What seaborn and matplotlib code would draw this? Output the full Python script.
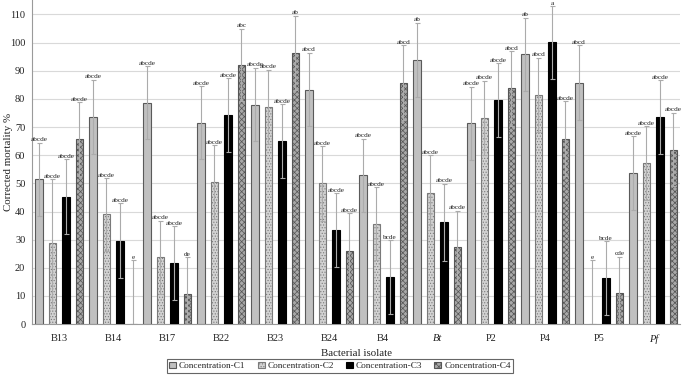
#!/usr/bin/env python3
"""
Corrected mortality (%) of four concentrations per bacterial isolate,
grouped bars with error bars and significance letters.
"""

import numpy as np
import pandas as pd
import matplotlib
matplotlib.use("Agg")
import matplotlib.pyplot as plt
import seaborn as sns

# ─── Data ────────────────────────────────────────────────────────────────────
ISOLATES = ["B13", "B14", "B17", "B22", "B23", "B24", "B4", "Bt", "P2", "P4", "P5", "Pf"]
CONCS = ["Concentration-C1", "Concentration-C2", "Concentration-C3", "Concentration-C4"]

C1 = [51.4, 73.6, 78.6, 71.5, 78.0, 83.3, 52.9, 93.9, 71.3, 95.8, 85.8, 53.7]
C2 = [28.7, 39.0, 23.7, 50.5, 77.2, 50.0, 35.7, 46.7, 73.2, 81.5, 0.0, 57.3]
C3 = [45.3, 29.7, 21.7, 74.2, 65.0, 33.4, 16.7, 36.2, 79.6, 100.1, 16.4, 73.6]
C4 = [65.7, 0.0, 10.8, 92.0, 96.4, 26.1, 85.8, 27.3, 83.7, 65.9, 10.9, 62.0]

ERR_C1 = [13.0, 13.2, 13.0, 13.0, 13.1, 13.1, 13.0, 13.2, 13.0, 13.1, 13.2, 13.1]
ERR_C2 = [22.8, 12.9, 13.0, 13.0, 13.2, 13.2, 13.0, 13.2, 13.2, 13.1, 22.6, 13.1]
ERR_C3 = [13.2, 13.2, 13.1, 13.2, 13.1, 13.0, 13.1, 13.7, 13.0, 12.9, 13.1, 13.1]
ERR_C4 = [13.1, 22.7, 13.0, 12.9, 13.2, 13.2, 13.2, 13.0, 13.2, 13.2, 13.1, 13.1]

LET_C1 = ["abcde", "abcde", "abcde", "abcde", "abcde", "abcd", "abcde", "ab", "abcde", "ab", "abcd", "abcde"]
LET_C2 = ["abcde", "abcde", "abcde", "abcde", "abcde", "abcde", "abcde", "abcde", "abcde", "abcd", "e", "abcde"]
LET_C3 = ["abcde", "abcde", "abcde", "abcde", "abcde", "abcde", "bcde", "abcde", "abcde", "a", "bcde", "abcde"]
LET_C4 = ["abcde", "e", "de", "abc", "ab", "abcde", "abcd", "abcde", "abcd", "abcde", "cde", "abcde"]

# ─── Styling ─────────────────────────────────────────────────────────────────
FACES = ["#c0c0c0", "#d2d2d2", "#000000", "#a8a8a8"]
EDGES = ["#5a5a5a", "#7a7a7a", "#000000", "#555555"]
HATCHES = [None, "......", None, "xxxxxx"]
SERIF = "Liberation Serif"


def build_frame():
    rows = []
    for conc, vals in zip(CONCS, [C1, C2, C3, C4]):
        for iso, v in zip(ISOLATES, vals):
            rows.append({"isolate": iso, "concentration": conc, "mortality": v})
    return pd.DataFrame(rows)


def main():
    sns.set_style("white")
    plt.rcParams["font.family"] = [SERIF, "DejaVu Serif"]
    plt.rcParams["hatch.linewidth"] = 0.5

    df = build_frame()
    fig, ax = plt.subplots(figsize=(6.85, 3.76), dpi=100)
    fig.subplots_adjust(left=0.047, right=0.993, bottom=0.138, top=0.999)

    sns.barplot(data=df, x="isolate", y="mortality", hue="concentration",
                order=ISOLATES, hue_order=CONCS, palette=FACES,
                width=1.0, gap=0.45, errorbar=None, legend=False,
                linewidth=0.8, ax=ax, zorder=3)

    bar_conts = list(ax.containers)
    errs = [ERR_C1, ERR_C2, ERR_C3, ERR_C4]
    lets = [LET_C1, LET_C2, LET_C3, LET_C4]
    vals_all = [C1, C2, C3, C4]
    for i, cont in enumerate(bar_conts):
        xs = []
        for p in cont.patches:
            p.set_edgecolor(EDGES[i])
            p.set_facecolor(FACES[i])
            if HATCHES[i]:
                p.set_hatch(HATCHES[i])
            xs.append(p.get_x() + p.get_width() / 2)
        vals = np.array(vals_all[i])
        err = np.array(errs[i])
        ax.errorbar(xs, vals, yerr=err, fmt="none", ecolor="#ababab",
                    elinewidth=0.8, capsize=1.8, capthick=0.8, zorder=4)
        for x, v, e, t in zip(xs, vals, err, lets[i]):
            ax.annotate(t, (x, v + e), xytext=(0, 0.3), textcoords="offset points",
                        ha="center", va="bottom", fontsize=5.2, color="#222222",
                        annotation_clip=False)

    # axes
    ax.set_xlim(-0.5, len(ISOLATES) - 0.5)
    ax.set_ylim(0, 115)
    ax.set_yticks(np.arange(0, 111, 10))
    ax.yaxis.grid(True, color="#d9d9d9", linewidth=0.8, zorder=0)
    ax.set_axisbelow(True)
    for side in ["top", "right"]:
        ax.spines[side].set_visible(False)
    for side in ["left", "bottom"]:
        ax.spines[side].set_color("#9a9a9a")
        ax.spines[side].set_linewidth(0.8)

    ax.set_xticks(range(len(ISOLATES)))
    ax.set_xticklabels(ISOLATES)
    for lab in ax.get_xticklabels():
        if lab.get_text() in ("Bt", "Pf"):
            lab.set_style("italic")
    ax.set_xticks(np.arange(-0.5, len(ISOLATES), 1.0), minor=True)
    ax.tick_params(axis="x", which="major", length=0, labelsize=7.5, pad=7, labelcolor="#222222")
    ax.tick_params(axis="x", which="minor", length=4, direction="inout", color="#9a9a9a", width=0.8)
    ax.tick_params(axis="y", which="major", length=3, color="#9a9a9a", width=0.8,
                   labelsize=7.5, pad=2, labelcolor="#222222")

    ax.set_xlabel("Bacterial isolate", fontsize=7.8, labelpad=4, color="#222222")
    ax.set_ylabel("Corrected mortality %", fontsize=7.8, color="#222222")
    ax.yaxis.set_label_coords(-0.03, 0.5)

    leg = fig.legend(bar_conts, CONCS, loc="center", bbox_to_anchor=(340 / 685, 1 - 366 / 376),
                     ncol=4, fontsize=6.7, frameon=True, fancybox=False, edgecolor="#404040",
                     handlelength=0.75, handleheight=0.75, handletextpad=0.3,
                     columnspacing=1.3, borderpad=0.3)
    leg.get_frame().set_linewidth(0.8)

    fig.savefig("out.png", dpi=100)
    plt.close(fig)
    print("Saved out.png")


if __name__ == "__main__":
    main()
